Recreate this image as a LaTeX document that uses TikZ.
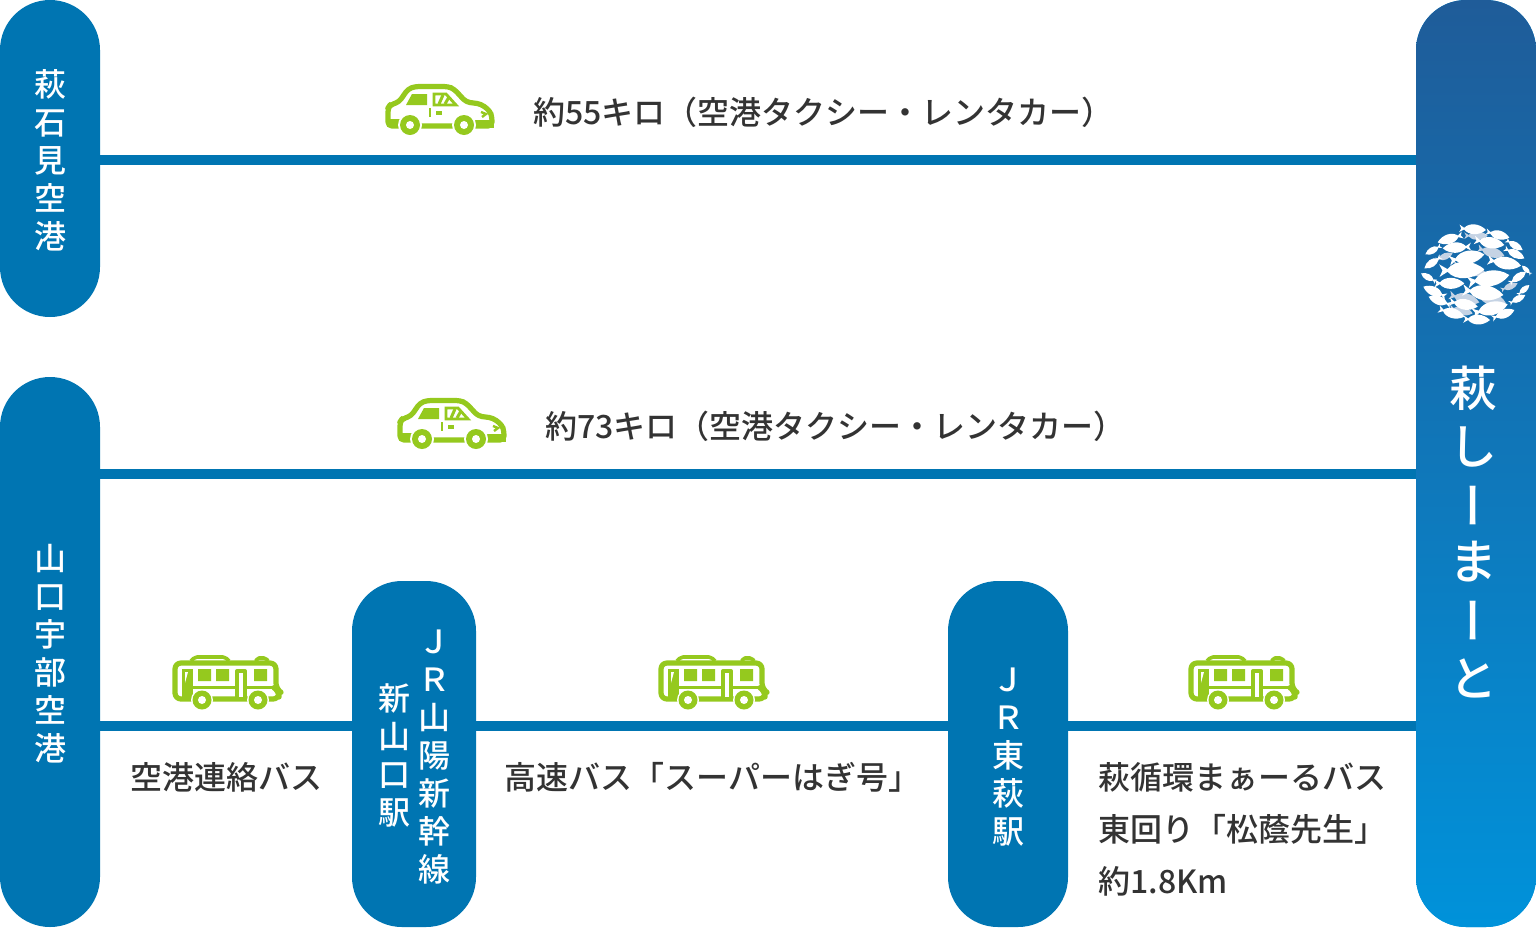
\documentclass[tikz,border=0pt]{standalone}
\usepackage{fontspec}
\usepackage{graphicx}
\setmainfont{Noto Sans CJK JP}[UprightFont=* Medium]
\definecolor{pillblue}{HTML}{0075B2}
\definecolor{linkblue}{HTML}{0075B2}
\definecolor{icongreen}{HTML}{95C91E}
\definecolor{labelgrey}{HTML}{333333}
\definecolor{fishgrey}{HTML}{C5D3E4}
\definecolor{gradtop}{HTML}{1F5C99}
\definecolor{gradbot}{HTML}{0092DA}
\newcommand{\fishshape}[5]{%
  \pgfmathsetmacro{\ux}{(#3)-(#1)}\pgfmathsetmacro{\uy}{(#4)-(#2)}%
  \def\fx##1##2{#1+\ux*##1-\uy*##2}\def\fy##1##2{#2+\uy*##1+\ux*##2}%
  \fill[#5] ({\fx{0}{.14}},{\fy{0}{.14}}) -- ({\fx{.18}{.03}},{\fy{.18}{.03}})
   .. controls ({\fx{.36}{.24}},{\fy{.36}{.24}}) and ({\fx{.74}{.24}},{\fy{.74}{.24}}) .. ({\fx{1}{0}},{\fy{1}{0}})
   .. controls ({\fx{.74}{-.24}},{\fy{.74}{-.24}}) and ({\fx{.36}{-.24}},{\fy{.36}{-.24}}) .. ({\fx{.18}{-.03}},{\fy{.18}{-.03}})
   -- ({\fx{0}{-.14}},{\fy{0}{-.14}}) -- ({\fx{.07}{0}},{\fy{.07}{0}}) -- cycle;}
\tikzset{
  pill/.style={fill=pillblue,rounded corners=25pt,inner sep=0pt,minimum width=#1},
  vtext/.style={text=white,font=\fontsize{16}{19}\selectfont,align=center,inner sep=0pt},
  bigchar/.style={text=white,font=\fontsize{24}{24}\selectfont,inner sep=0pt},
  barchar/.style={bigchar,xshift=4pt},
  label/.style={text=labelgrey,font=\fontsize{16}{26}\selectfont,align=left,anchor=west,inner sep=0pt},
  link/.style={draw=linkblue,line width=5pt},
  ico/.style={draw=icongreen,line width=2.6pt,line join=round},
  wheel/.style={fill=icongreen},
  pics/carsym/.style={code={
    \draw[ico,fill=white,rounded corners=2pt] (18,56)--(18,38)--(20,35)--(29,32)--(38,19)--(45,16.5)--(78,16.5)--(84,19)--(96,32)--(111,34)--(120,41)--(122,47)--(122,56)--cycle;
    \fill[icongreen] (17,49)--(30,49)--(30,57)--(17,57)--cycle;
    \fill[icongreen] (36,35)--(42,24)--(57,24)--(57,35)--cycle;
    \draw[draw=icongreen,line width=1.4pt] (64,24)--(76,24)--(86,35)--(64,35)--cycle;
    \draw[draw=icongreen,line width=1.5pt] (69,34)--(73,25) (75,34)--(79,27);
    \draw[draw=icongreen,line width=1pt] (60,38)--(60,47);
    \draw[draw=icongreen,line width=1.6pt] (66,43)--(72,43);
    \draw[draw=icongreen,line width=1.2pt] (111,42)--(116,44)--(112,47);
    \fill[icongreen] (100,50)--(124,50)--(124,58)--(100,58)--cycle;
    \fill[white] (40,55) circle (12) (94,55) circle (12);
    \fill[wheel] (40,55) circle (10) (94,55) circle (10);
    \fill[white] (40,55) circle (4) (94,55) circle (4);
  }},
  pics/bussym/.style={code={
    \draw[ico,fill=white,rounded corners=3pt] (15,54)--(15,18)--(116,18)--(116,44)--(119,46)--(119,54)--cycle;
    \draw[ico,rounded corners=1pt,line width=1.8pt] (31,16)--(35,12)--(65,12)--(69,16);
    \draw[ico,rounded corners=1pt,line width=1.8pt] (96,16)--(97,13)--(106,13)--(108,16);
    \fill[icongreen] (38,24) rectangle (51,36) (56,24) rectangle (69,36) (94,24) rectangle (107,36);
    \fill[icongreen] (22,24) rectangle (33,54);
    \fill[white] (25,27)--(28,27)--(25,38)--cycle;
    \fill[icongreen] (32,41) rectangle (76,44);
    \fill[icongreen] (86,41) rectangle (116,44);
    \draw[ico,line width=2pt,fill=white] (77,26) rectangle (85,54);
    \fill[white] (42,55) circle (11) (98,55) circle (11);
    \fill[wheel] (42,55) circle (9.5) (98,55) circle (9.5);
    \fill[white] (42,55) circle (4) (98,55) circle (4);
  }}
}
\begin{document}
\begin{tikzpicture}[x=0.5pt,y=-0.5pt]
\useasboundingbox (0,0) rectangle (1536,927);
% pills
\node[pill=50pt,minimum height=158.5pt] (ishimi) at (50,158.5) {};
\node[pill=50pt,minimum height=275pt] (ube) at (50,652) {};
\node[pill=62pt,minimum height=173pt] (shin) at (414,754) {};
\node[pill=60pt,minimum height=173pt] (higashi) at (1008,754) {};
\node[fill=gradbot,rounded corners=25pt,minimum width=60pt,minimum height=463.5pt,inner sep=0pt,top color=gradtop,bottom color=gradbot] (hagi) at (1476,463.5) {};
% connectors
\draw[link] (ishimi.east |- 0,159.5) -- (hagi.west |- 0,159.5);
\draw[link] (ube.east |- 0,473.5) -- (hagi.west |- 0,473.5);
\draw[link] (ube.east |- 0,726) -- (shin.west |- 0,726);
\draw[link] (shin.east |- 0,726) -- (higashi.west |- 0,726);
\draw[link] (higashi.east |- 0,726) -- (hagi.west |- 0,726);
% pill text
\node[vtext] (t1) at (50,160) {萩\\石\\見\\空\\港};
\node[vtext] (t2) at (50,654) {山\\口\\宇\\部\\空\\港};
\node[vtext] (t3) at (434,757) {Ｊ\\Ｒ\\山\\陽\\新\\幹\\線};
\node[vtext] (t4) at (394,755) {新\\山\\口\\駅};
\node[vtext] (t5) at (1008,757) {Ｊ\\Ｒ\\東\\萩\\駅};
\node[bigchar] (h1) at (1473,388) {萩};
\node[bigchar] (h2) at (1473,447) {し};
\node[barchar] (h3) at (1473,505) {\rotatebox[origin=c]{90}{ー}};
\node[bigchar] (h4) at (1473,562) {ま};
\node[barchar] (h5) at (1473,620) {\rotatebox[origin=c]{90}{ー}};
\node[bigchar] (h6) at (1473,678) {と};
% labels
\node[label] (l1) at (533,112) {約55キロ（空港タクシー・レンタカー）};
\node[label] (l2) at (545,426) {約73キロ（空港タクシー・レンタカー）};
\node[label] (l3) at (130,777) {空港連絡バス};
\node[label] (l4) at (504,777) {高速バス「スーパーはぎ号」};
\node[label] (l5) at (1098,829) {萩循環まぁーるバス\\東回り「松蔭先生」\\約1.8Km};
% icons
\pic at (370,70) {carsym};
\pic at (382,384) {carsym};
\pic at (160,645) {bussym};
\pic at (646,645) {bussym};
\pic at (1176,645) {bussym};
% logo
\begin{scope}[shift={(1416,215)},x=0.1667pt,y=-0.1667pt]
\fishshape{145}{62}{215}{62}{fishgrey}
\fishshape{185}{100}{265}{122}{fishgrey}
\fishshape{60}{135}{110}{115}{fishgrey}
\fishshape{255}{225}{305}{205}{fishgrey}
\fishshape{100}{240}{190}{262}{fishgrey}
\fishshape{100}{278}{170}{295}{fishgrey}
\fishshape{170}{232}{270}{265}{fishgrey}
\fishshape{110}{150}{210}{175}{fishgrey}
\fishshape{130}{40}{210}{45}{white}
\fishshape{210}{50}{280}{68}{white}
\fishshape{140}{60}{65}{82}{white}
\fishshape{165}{95}{80}{100}{white}
\fishshape{175}{75}{265}{90}{white}
\fishshape{270}{75}{320}{105}{white}
\fishshape{265}{100}{325}{130}{white}
\fishshape{75}{92}{28}{118}{white}
\fishshape{100}{137}{205}{118}{white}
\fishshape{215}{135}{315}{152}{white}
\fishshape{75}{125}{25}{160}{white}
\fishshape{70}{167}{205}{163}{white}
\fishshape{345}{178}{318}{152}{white}
\fishshape{60}{200}{15}{175}{white}
\fishshape{155}{202}{280}{180}{white}
\fishshape{280}{205}{330}{170}{white}
\fishshape{55}{205}{145}{205}{white}
\fishshape{140}{225}{262}{240}{white}
\fishshape{90}{245}{22}{215}{white}
\fishshape{105}{270}{38}{245}{white}
\fishshape{305}{240}{340}{210}{white}
\fishshape{280}{265}{328}{240}{white}
\fishshape{100}{260}{185}{275}{white}
\fishshape{170}{295}{275}{268}{white}
\fishshape{228}{310}{295}{285}{white}
\fishshape{68}{282}{145}{305}{white}
\fishshape{142}{312}{222}{315}{white}
\end{scope}
\end{tikzpicture}
\end{document}
